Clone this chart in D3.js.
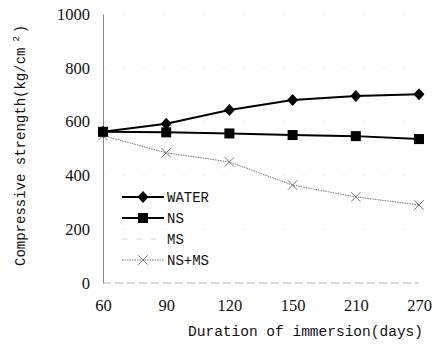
<!DOCTYPE html>
<html>
<head>
<meta charset="utf-8">
<script src="https://cdn.jsdelivr.net/npm/d3@7"></script>
<style>
  body { margin: 0; background: #fff; }
</style>
</head>
<body>
<div class="chart"></div>
<script>
const days = ["60", "90", "120", "150", "210", "270"];
const water = [562, 592, 643, 680, 695, 702];
const ns = [562, 560, 556, 550, 546, 535];
const nsms = [548, 484, 450, 364, 320, 290];
const yTicks = [0, 200, 400, 600, 800, 1000];
const legendNames = ["WATER", "NS", "MS", "NS+MS"];

const width = 432;
const height = 359;
const serif = "'Liberation Serif'";
const mono = "'Liberation Mono'";

const svg = d3.select(".chart").append("svg")
  .attr("width", width)
  .attr("height", height);

const x = d3.scalePoint()
  .domain(days)
  .range([103, 419]);

const y = d3.scaleLinear()
  .domain([0, 1000])
  .range([283, 14]);

// faint dashed gridlines (scan remnants)
svg.append("g")
  .selectAll("line")
  .data(yTicks.filter(d => d > 0))
  .enter()
  .append("line")
  .attr("x1", 103)
  .attr("x2", 419)
  .attr("y1", d => y(d))
  .attr("y2", d => y(d))
  .attr("stroke", "#ececec")
  .attr("stroke-width", 1)
  .attr("stroke-dasharray", "2,18");

// baseline
svg.append("line")
  .attr("x1", 103)
  .attr("x2", 419)
  .attr("y1", y(0))
  .attr("y2", y(0))
  .attr("stroke", "#b0b0b0")
  .attr("stroke-width", 1)
  .attr("stroke-dasharray", "8,4");

// y axis
const yAxis = svg.append("g")
  .attr("transform", "translate(103,0)")
  .call(d3.axisLeft(y).tickValues(yTicks).tickFormat(d3.format("d")).tickSize(0).tickPadding(13))
  .attr("font-family", "Liberation Serif")
  .attr("font-size", 16.5);

yAxis.select(".domain")
  .attr("stroke", "#888")
  .attr("stroke-width", 1);

yAxis.selectAll("text")
  .style("font-family", serif)
  .style("font-size", "16.5px")
  .attr("fill", "#111");

// x axis labels
const xAxis = svg.append("g")
  .attr("transform", "translate(0," + y(0) + ")")
  .call(d3.axisBottom(x).tickSize(0).tickPadding(16))
  .attr("font-family", "Liberation Serif")
  .attr("font-size", 16.5);

xAxis.select(".domain").remove();

xAxis.selectAll("text")
  .style("font-family", serif)
  .style("font-size", "16.5px")
  .attr("fill", "#111");

// axis titles
svg.append("text")
  .attr("x", 423)
  .attr("y", 336)
  .attr("text-anchor", "end")
  .style("font-family", mono)
  .style("font-size", "14.5px")
  .attr("fill", "#111")
  .text("Duration of immersion(days)");

const yTitle = svg.append("text")
  .attr("transform", "translate(25,266) rotate(-90)")
  .style("font-family", mono)
  .style("font-size", "14px")
  .attr("fill", "#111");

yTitle.append("tspan").text("Compressive strength(kg/cm");
yTitle.append("tspan").attr("dy", "-6").attr("dx", "6").style("font-size", "9px").text("2");
yTitle.append("tspan").attr("dy", "6").attr("dx", "3").text(")");

const series = [
  { name: "WATER", values: water, color: "#000", width: 2, dash: null, marker: "diamond" },
  { name: "NS", values: ns, color: "#000", width: 2, dash: null, marker: "square" },
  { name: "NS+MS", values: nsms, color: "#777", width: 1, dash: "1.5,1", marker: "cross" }
];

const line = d3.line()
  .x((d, i) => x(days[i]))
  .y(d => y(d));

function drawMarker(g, type, cx, cy, color) {
  if (type === "diamond") {
    g.append("path")
      .attr("d", "M0,-6L5.5,0L0,6L-5.5,0Z")
      .attr("transform", "translate(" + cx + "," + cy + ")")
      .attr("fill", color);
  } else if (type === "square") {
    g.append("rect")
      .attr("x", cx - 5)
      .attr("y", cy - 5)
      .attr("width", 10)
      .attr("height", 10)
      .attr("fill", color);
  } else {
    g.append("path")
      .attr("d", d3.symbol().type(d3.symbolX).size(60)())
      .attr("transform", "translate(" + cx + "," + cy + ")")
      .attr("fill", "none")
      .attr("stroke", color)
      .attr("stroke-width", 1);
  }
}

const plot = svg.append("g");

series.slice().reverse().forEach(s => {
  plot.append("path")
    .datum(s.values)
    .attr("d", line)
    .attr("fill", "none")
    .attr("stroke", s.color)
    .attr("stroke-width", s.width)
    .attr("stroke-dasharray", s.dash);
  s.values.forEach((v, i) => drawMarker(plot, s.marker, x(days[i]), y(v), s.color));
});

// Legend
const legend = svg.append("g");
const legendStyle = {
  WATER: { color: "#000", width: 2, dash: null, marker: "diamond" },
  NS: { color: "#000", width: 2, dash: null, marker: "square" },
  MS: { color: "#dcdcdc", width: 1, dash: "6,8", marker: null },
  "NS+MS": { color: "#777", width: 1, dash: "1.5,1", marker: "cross" }
};

legendNames.forEach((name, i) => {
  const st = legendStyle[name];
  const ly = 197 + i * 21;
  legend.append("line")
    .attr("x1", 122)
    .attr("x2", 164)
    .attr("y1", ly)
    .attr("y2", ly)
    .attr("stroke", st.color)
    .attr("stroke-width", st.width)
    .attr("stroke-dasharray", st.dash);
  if (st.marker) drawMarker(legend, st.marker, 143, ly, st.color);
  legend.append("text")
    .attr("x", 167)
    .attr("y", ly)
    .attr("dy", "0.35em")
    .style("font-family", mono)
    .style("font-size", "14px")
    .attr("fill", "#111")
    .text(name);
});
</script>
</body>
</html>
